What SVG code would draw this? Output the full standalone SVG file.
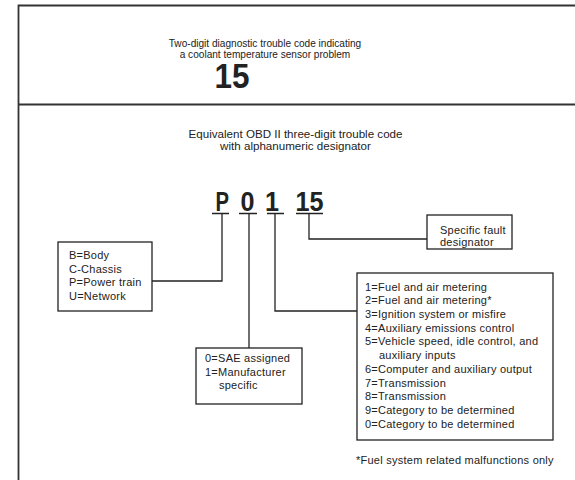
<svg xmlns="http://www.w3.org/2000/svg" width="575" height="480" viewBox="0 0 575 480">
<style>
text{font-family:"Liberation Sans",Arial,sans-serif;fill:#222}
.t{font-size:11px;letter-spacing:0.25px}
.h{font-size:10.1px;text-anchor:middle}
.h2{font-size:11.6px;text-anchor:middle}
.big{font-weight:bold;font-size:27px}
.box{fill:#fff;stroke:#222;stroke-width:1.3}
.ln{fill:none;stroke:#222;stroke-width:1.3}
.frame{fill:none;stroke:#333;stroke-width:1.8}
</style>
<rect width="575" height="480" fill="#fff"/>
<g id="frame">
<path class="frame" d="M575,5.5 H18.5 V480"/>
<path class="frame" d="M18.5,104.5 H575"/>
</g>
<g id="header-top">
<text class="h" x="265" y="46.5">Two-digit diagnostic trouble code indicating</text>
<text class="h" x="265" y="57.5">a coolant temperature sensor problem</text>
<text x="214.5" y="88" style="font-weight:bold;font-size:35px" textLength="35" lengthAdjust="spacingAndGlyphs">15</text>
</g>
<g id="header-obd">
<text class="h2" x="295.5" y="137.5">Equivalent OBD II three-digit trouble code</text>
<text class="h2" x="295.5" y="150">with alphanumeric designator</text>
</g>
<g id="code">
<text class="big" x="215.5" y="211" textLength="13.5" lengthAdjust="spacingAndGlyphs">P</text>
<text class="big" x="240.5" y="211" textLength="14" lengthAdjust="spacingAndGlyphs">0</text>
<text class="big" x="265" y="211" textLength="14" lengthAdjust="spacingAndGlyphs">1</text>
<text class="big" x="295.5" y="211" textLength="28" lengthAdjust="spacingAndGlyphs">15</text>
</g>
<g id="connectors">
<path class="ln" d="M212,213.5 H229 M239,213.5 H257 M267,213.5 H284 M296,213.5 H323"/>
<path class="ln" d="M222,213.5 V281 H152"/>
<path class="ln" d="M249,213.5 V348"/>
<path class="ln" d="M275,213.5 V311 H357"/>
<path class="ln" d="M309,213.5 V239 H427"/>
</g>
<g id="system-box">
<rect class="box" x="58" y="242" width="94" height="69"/>
<text class="t" x="69" y="259">B=Body</text>
<text class="t" x="69" y="272.7">C-Chassis</text>
<text class="t" x="69" y="286.4">P=Power train</text>
<text class="t" x="69" y="300">U=Network</text>
</g>
<g id="sae-box">
<rect class="box" x="196" y="348" width="106" height="56"/>
<text class="t" x="205" y="362">0=SAE assigned</text>
<text class="t" x="205" y="375.5">1=Manufacturer</text>
<text class="t" x="219" y="389">specific</text>
</g>
<g id="fault-box">
<rect class="box" x="427" y="215" width="85" height="34"/>
<text class="t" x="440" y="234">Specific fault</text>
<text class="t" x="440" y="245.5">designator</text>
</g>
<g id="subsystem-box">
<rect class="box" x="357" y="273" width="196" height="167"/>
<text class="t" x="365" y="290.7">1=Fuel and air metering</text>
<text class="t" x="365" y="304.4">2=Fuel and air metering*</text>
<text class="t" x="365" y="318">3=Ignition system or misfire</text>
<text class="t" x="365" y="331.7">4=Auxiliary emissions control</text>
<text class="t" x="365" y="345.4">5=Vehicle speed, idle control, and</text>
<text class="t" x="379" y="359">auxiliary inputs</text>
<text class="t" x="365" y="372.8">6=Computer and auxiliary output</text>
<text class="t" x="365" y="386.5">7=Transmission</text>
<text class="t" x="365" y="400">8=Transmission</text>
<text class="t" x="365" y="413.8">9=Category to be determined</text>
<text class="t" x="365" y="427.5">0=Category to be determined</text>
</g>
<g id="footnote">
<text class="t" x="356" y="464">*Fuel system related malfunctions only</text>
</g>
</svg>
